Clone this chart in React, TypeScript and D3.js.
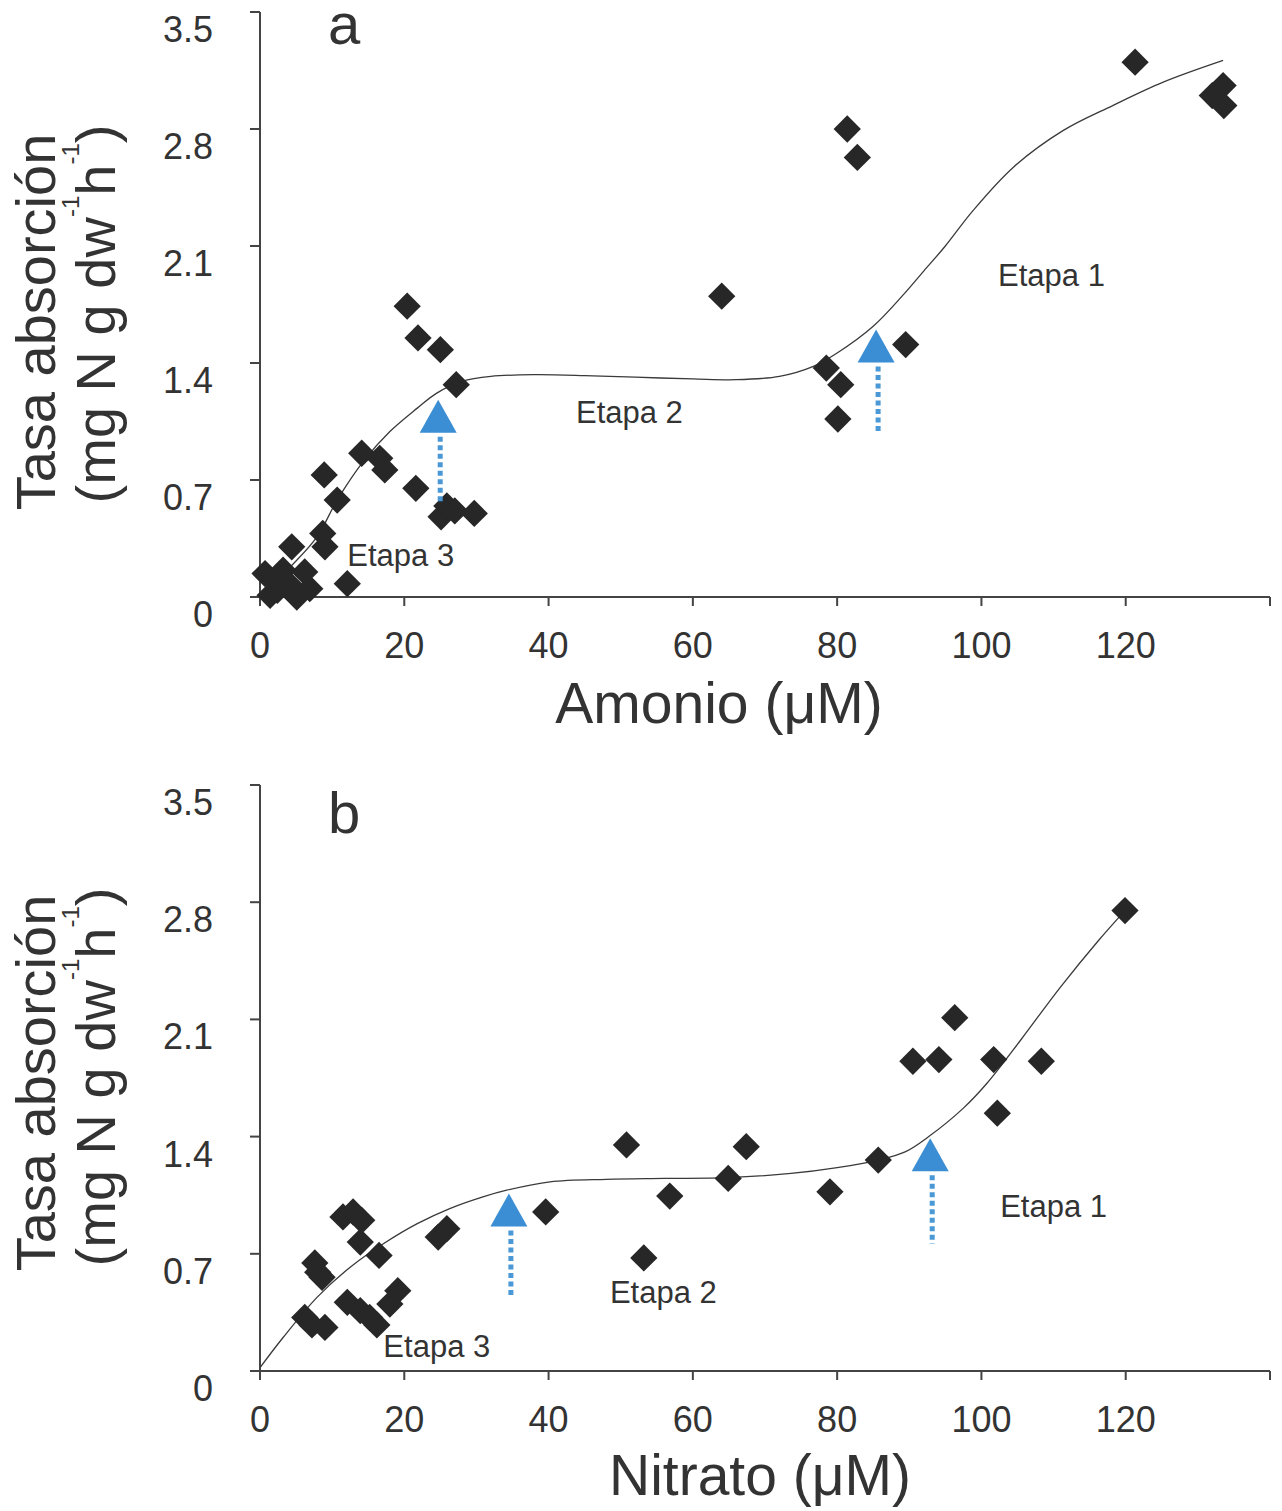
import React from "react";
import * as d3 from "d3";

// ---------- DATA ----------
const yTicks = [0, 0.7, 1.4, 2.1, 2.8, 3.5];
const xTicks = [0, 20, 40, 60, 80, 100, 120, 140];
const xTickLabels = ["0", "20", "40", "60", "80", "100", "120", ""];
const yTickLabels = ["0", "0.7", "1.4", "2.1", "2.8", "3.5"];

// Panel a: Amonio
const amonioPoints = [
  { x: 121.3, y: 3.2 }, { x: 132.0, y: 3.0 }, { x: 133.5, y: 3.06 }, { x: 133.6, y: 2.94 },
  { x: 81.4, y: 2.8 }, { x: 82.8, y: 2.63 }, { x: 64.0, y: 1.8 }, { x: 89.5, y: 1.51 },
  { x: 78.5, y: 1.37 }, { x: 80.5, y: 1.27 }, { x: 80.1, y: 1.065 },
  { x: 20.4, y: 1.74 }, { x: 21.9, y: 1.55 }, { x: 25.0, y: 1.48 }, { x: 27.2, y: 1.27 },
  { x: 8.9, y: 0.73 }, { x: 14.1, y: 0.86 }, { x: 16.6, y: 0.83 }, { x: 17.3, y: 0.76 },
  { x: 10.7, y: 0.58 }, { x: 21.6, y: 0.65 },
  { x: 25.1, y: 0.48 }, { x: 25.9, y: 0.545 }, { x: 27.0, y: 0.515 }, { x: 29.7, y: 0.5 },
  { x: 8.7, y: 0.38 }, { x: 9.0, y: 0.3 }, { x: 4.4, y: 0.3 }, { x: 12.1, y: 0.08 },
  { x: 0.7, y: 0.14 }, { x: 2.1, y: 0.1 }, { x: 3.2, y: 0.16 }, { x: 2.4, y: 0.04 },
  { x: 5.1, y: 0.0 }, { x: 6.2, y: 0.15 }, { x: 6.9, y: 0.05 }, { x: 4.2, y: 0.07 }, { x: 1.4, y: 0.01 },
];
const amonioFitX = [0, 4.2, 7.9, 10.7, 14.3, 18, 21.8, 24.5, 28, 32, 38, 45, 52, 60, 66, 72, 76.7, 80, 85, 89, 92, 95, 98.8, 104.4, 111.3, 118.2, 125.2, 133.5];
const amonioFitY = [0, 0.18, 0.36, 0.58, 0.81, 0.99, 1.13, 1.22, 1.29, 1.32, 1.33, 1.325, 1.315, 1.305, 1.3, 1.32, 1.38, 1.46, 1.62, 1.8, 1.95, 2.1, 2.31, 2.57, 2.79, 2.94, 3.08, 3.21];
const amonioArrows = [
  { x: 24.7, tip: 1.18, tail: 0.56 },
  { x: 85.4, tip: 1.6, tail: 0.98 },
];
const amonioLabels = [
  { text: "Etapa 1", x: 102.3, y: 1.86 },
  { text: "Etapa 2", x: 43.8, y: 1.04 },
  { text: "Etapa 3", x: 12.1, y: 0.185 },
];

// Panel b: Nitrato
const nitratoPoints = [
  { x: 119.9, y: 2.75 }, { x: 96.3, y: 2.11 }, { x: 90.5, y: 1.85 }, { x: 94.1, y: 1.86 },
  { x: 101.7, y: 1.86 }, { x: 108.3, y: 1.85 }, { x: 102.2, y: 1.54 }, { x: 85.7, y: 1.26 },
  { x: 79.0, y: 1.07 }, { x: 67.4, y: 1.34 }, { x: 64.9, y: 1.15 }, { x: 56.8, y: 1.045 },
  { x: 50.8, y: 1.35 }, { x: 53.2, y: 0.675 }, { x: 39.6, y: 0.95 },
  { x: 24.7, y: 0.8 }, { x: 25.9, y: 0.85 }, { x: 16.5, y: 0.69 }, { x: 13.9, y: 0.77 },
  { x: 11.5, y: 0.92 }, { x: 12.9, y: 0.95 }, { x: 14.1, y: 0.9 },
  { x: 7.6, y: 0.645 }, { x: 8.6, y: 0.56 }, { x: 8.0, y: 0.59 },
  { x: 19.1, y: 0.48 }, { x: 18.0, y: 0.4 },
  { x: 12.1, y: 0.41 }, { x: 13.9, y: 0.36 }, { x: 15.2, y: 0.32 }, { x: 16.2, y: 0.275 },
  { x: 6.2, y: 0.32 }, { x: 7.2, y: 0.275 }, { x: 9.0, y: 0.26 },
];
const nitratoFitX = [0, 3.2, 7.9, 12.5, 17.1, 21.8, 26.3, 30.9, 34.2, 40.2, 48, 56, 64.9, 73.6, 80, 85.7, 89.5, 92.7, 97.5, 100.8, 105.5, 110.9, 116.2, 119.9];
const nitratoFitY = [0.02, 0.2, 0.44, 0.62, 0.76, 0.88, 0.97, 1.04, 1.08, 1.13, 1.145, 1.15, 1.155, 1.18, 1.215, 1.26, 1.31, 1.4, 1.57, 1.72, 1.98, 2.29, 2.57, 2.75];
const nitratoArrows = [
  { x: 34.5, tip: 1.06, tail: 0.45 },
  { x: 92.9, tip: 1.39, tail: 0.76 },
];
const nitratoLabels = [
  { text: "Etapa 1", x: 102.6, y: 0.92 },
  { text: "Etapa 2", x: 48.5, y: 0.406 },
  { text: "Etapa 3", x: 17.1, y: 0.084 },
];

// ---------- STYLE ----------
const FONT = "'Liberation Sans', Arial, Helvetica, sans-serif";
const TEXT = "#333";
const AXIS = "#444";
const MARK = "#272727";
const BLUE = "#3b8ed3";
const BLUE_DOT = "#4a98d6";

type Pt = { x: number; y: number };

function Panel(props: {
  top: number;
  bottom: number;
  points: Pt[];
  fitX: number[];
  fitY: number[];
  arrows: { x: number; tip: number; tail: number }[];
  labels: { text: string; x: number; y: number }[];
  letter: string;
  letterY: number;
  xTitle: string;
  xTitleCx: number;
  xTitleBaseline: number;
  yTitleC1: number;
  yTitleC2: number;
}) {
  const x = d3.scaleLinear().domain([0, 140]).range([260, 1270]);
  const y = d3.scaleLinear().domain([0, 3.5]).range([props.bottom, props.top]);
  const line = d3
    .line<number>()
    .x((_, i) => x(props.fitX[i]))
    .y((d) => y(d))
    .curve(d3.curveCatmullRom.alpha(0.5));
  const diamond = d3.symbol(d3.symbolSquare, 372)();
  const fit = line(props.fitY) || "";
  const sup = (s: string) => (
    <tspan fontSize={24} dy={-36}>
      {s}
    </tspan>
  );
  return (
    <g>
      {/* axes */}
      <line x1={260} x2={260} y1={props.top} y2={props.bottom} stroke={AXIS} strokeWidth={2} />
      <line x1={250} x2={1270} y1={props.bottom} y2={props.bottom} stroke={AXIS} strokeWidth={2} />
      {yTicks.map((t, i) => (
        <g key={"yt" + i}>
          <line x1={250} x2={260} y1={y(t)} y2={y(t)} stroke={AXIS} strokeWidth={2} />
          <text x={213} y={y(t) + 30} textAnchor="end" fontSize={36} fill={TEXT} fontFamily={FONT}>
            {yTickLabels[i]}
          </text>
        </g>
      ))}
      {xTicks.map((t, i) => (
        <g key={"xt" + i}>
          <line x1={x(t)} x2={x(t)} y1={props.bottom} y2={props.bottom + 9} stroke={AXIS} strokeWidth={2} />
          <text x={x(t)} y={props.bottom + 61} textAnchor="middle" fontSize={36} fill={TEXT} fontFamily={FONT}>
            {xTickLabels[i]}
          </text>
        </g>
      ))}
      {/* titles */}
      <text x={props.xTitleCx} y={props.xTitleBaseline} textAnchor="middle" fontSize={57} fill={TEXT} fontFamily={FONT}>
        {props.xTitle}
      </text>
      <text
        transform={`translate(55,${props.yTitleC1}) rotate(-90)`}
        textAnchor="middle"
        fontSize={56}
        fill={TEXT}
        fontFamily={FONT}
      >
        Tasa absorción
      </text>
      <text
        transform={`translate(115,${props.yTitleC2}) rotate(-90)`}
        textAnchor="middle"
        fontSize={56}
        fill={TEXT}
        fontFamily={FONT}
      >
        (mg N g dw
        {sup("-1")}
        <tspan dy={36}>h</tspan>
        {sup("-1")}
        <tspan dy={36}>)</tspan>
      </text>
      <text x={328} y={props.letterY} fontSize={58} fill={TEXT} fontFamily={FONT}>
        {props.letter}
      </text>
      {/* fit curve */}
      <path d={fit} fill="none" stroke="#3a3a3a" strokeWidth={1.3} />
      {/* points */}
      {props.points.map((p, i) => (
        <path
          key={"p" + i}
          d={diamond}
          transform={`translate(${x(p.x)},${y(p.y)}) rotate(45)`}
          fill={MARK}
        />
      ))}
      {/* arrows */}
      {props.arrows.map((a, i) => {
        const cx = x(a.x);
        const tipY = y(a.tip);
        const baseY = tipY + 33;
        return (
          <g key={"a" + i}>
            <line
              x1={cx + 2}
              x2={cx + 2}
              y1={baseY + 4}
              y2={y(a.tail)}
              stroke={BLUE_DOT}
              strokeWidth={5}
              strokeDasharray="5 3.5"
            />
            <path d={`M${cx},${tipY} L${cx + 18.5},${baseY} L${cx - 18.5},${baseY} Z`} fill={BLUE} />
          </g>
        );
      })}
      {/* stage labels */}
      {props.labels.map((l, i) => (
        <text key={"l" + i} x={x(l.x)} y={y(l.y)} fontSize={31} fill={TEXT} fontFamily={FONT}>
          {l.text}
        </text>
      ))}
    </g>
  );
}

export default function App() {
  return (
    <svg
      width={1282}
      height={1511}
      style={{ position: "absolute", left: 0, top: 0, background: "#fff" }}
    >
      <rect width={1282} height={1511} fill="#fff" />
      <Panel
        top={12}
        bottom={597}
        points={amonioPoints}
        fitX={amonioFitX}
        fitY={amonioFitY}
        arrows={amonioArrows}
        labels={amonioLabels}
        letter="a"
        letterY={44}
        xTitle="Amonio (μM)"
        xTitleCx={719}
        xTitleBaseline={723}
        yTitleC1={322}
        yTitleC2={314}
      />
      <Panel
        top={785}
        bottom={1371}
        points={nitratoPoints}
        fitX={nitratoFitX}
        fitY={nitratoFitY}
        arrows={nitratoArrows}
        labels={nitratoLabels}
        letter="b"
        letterY={833}
        xTitle="Nitrato (μM)"
        xTitleCx={760}
        xTitleBaseline={1495}
        yTitleC1={1083}
        yTitleC2={1077}
      />
    </svg>
  );
}
